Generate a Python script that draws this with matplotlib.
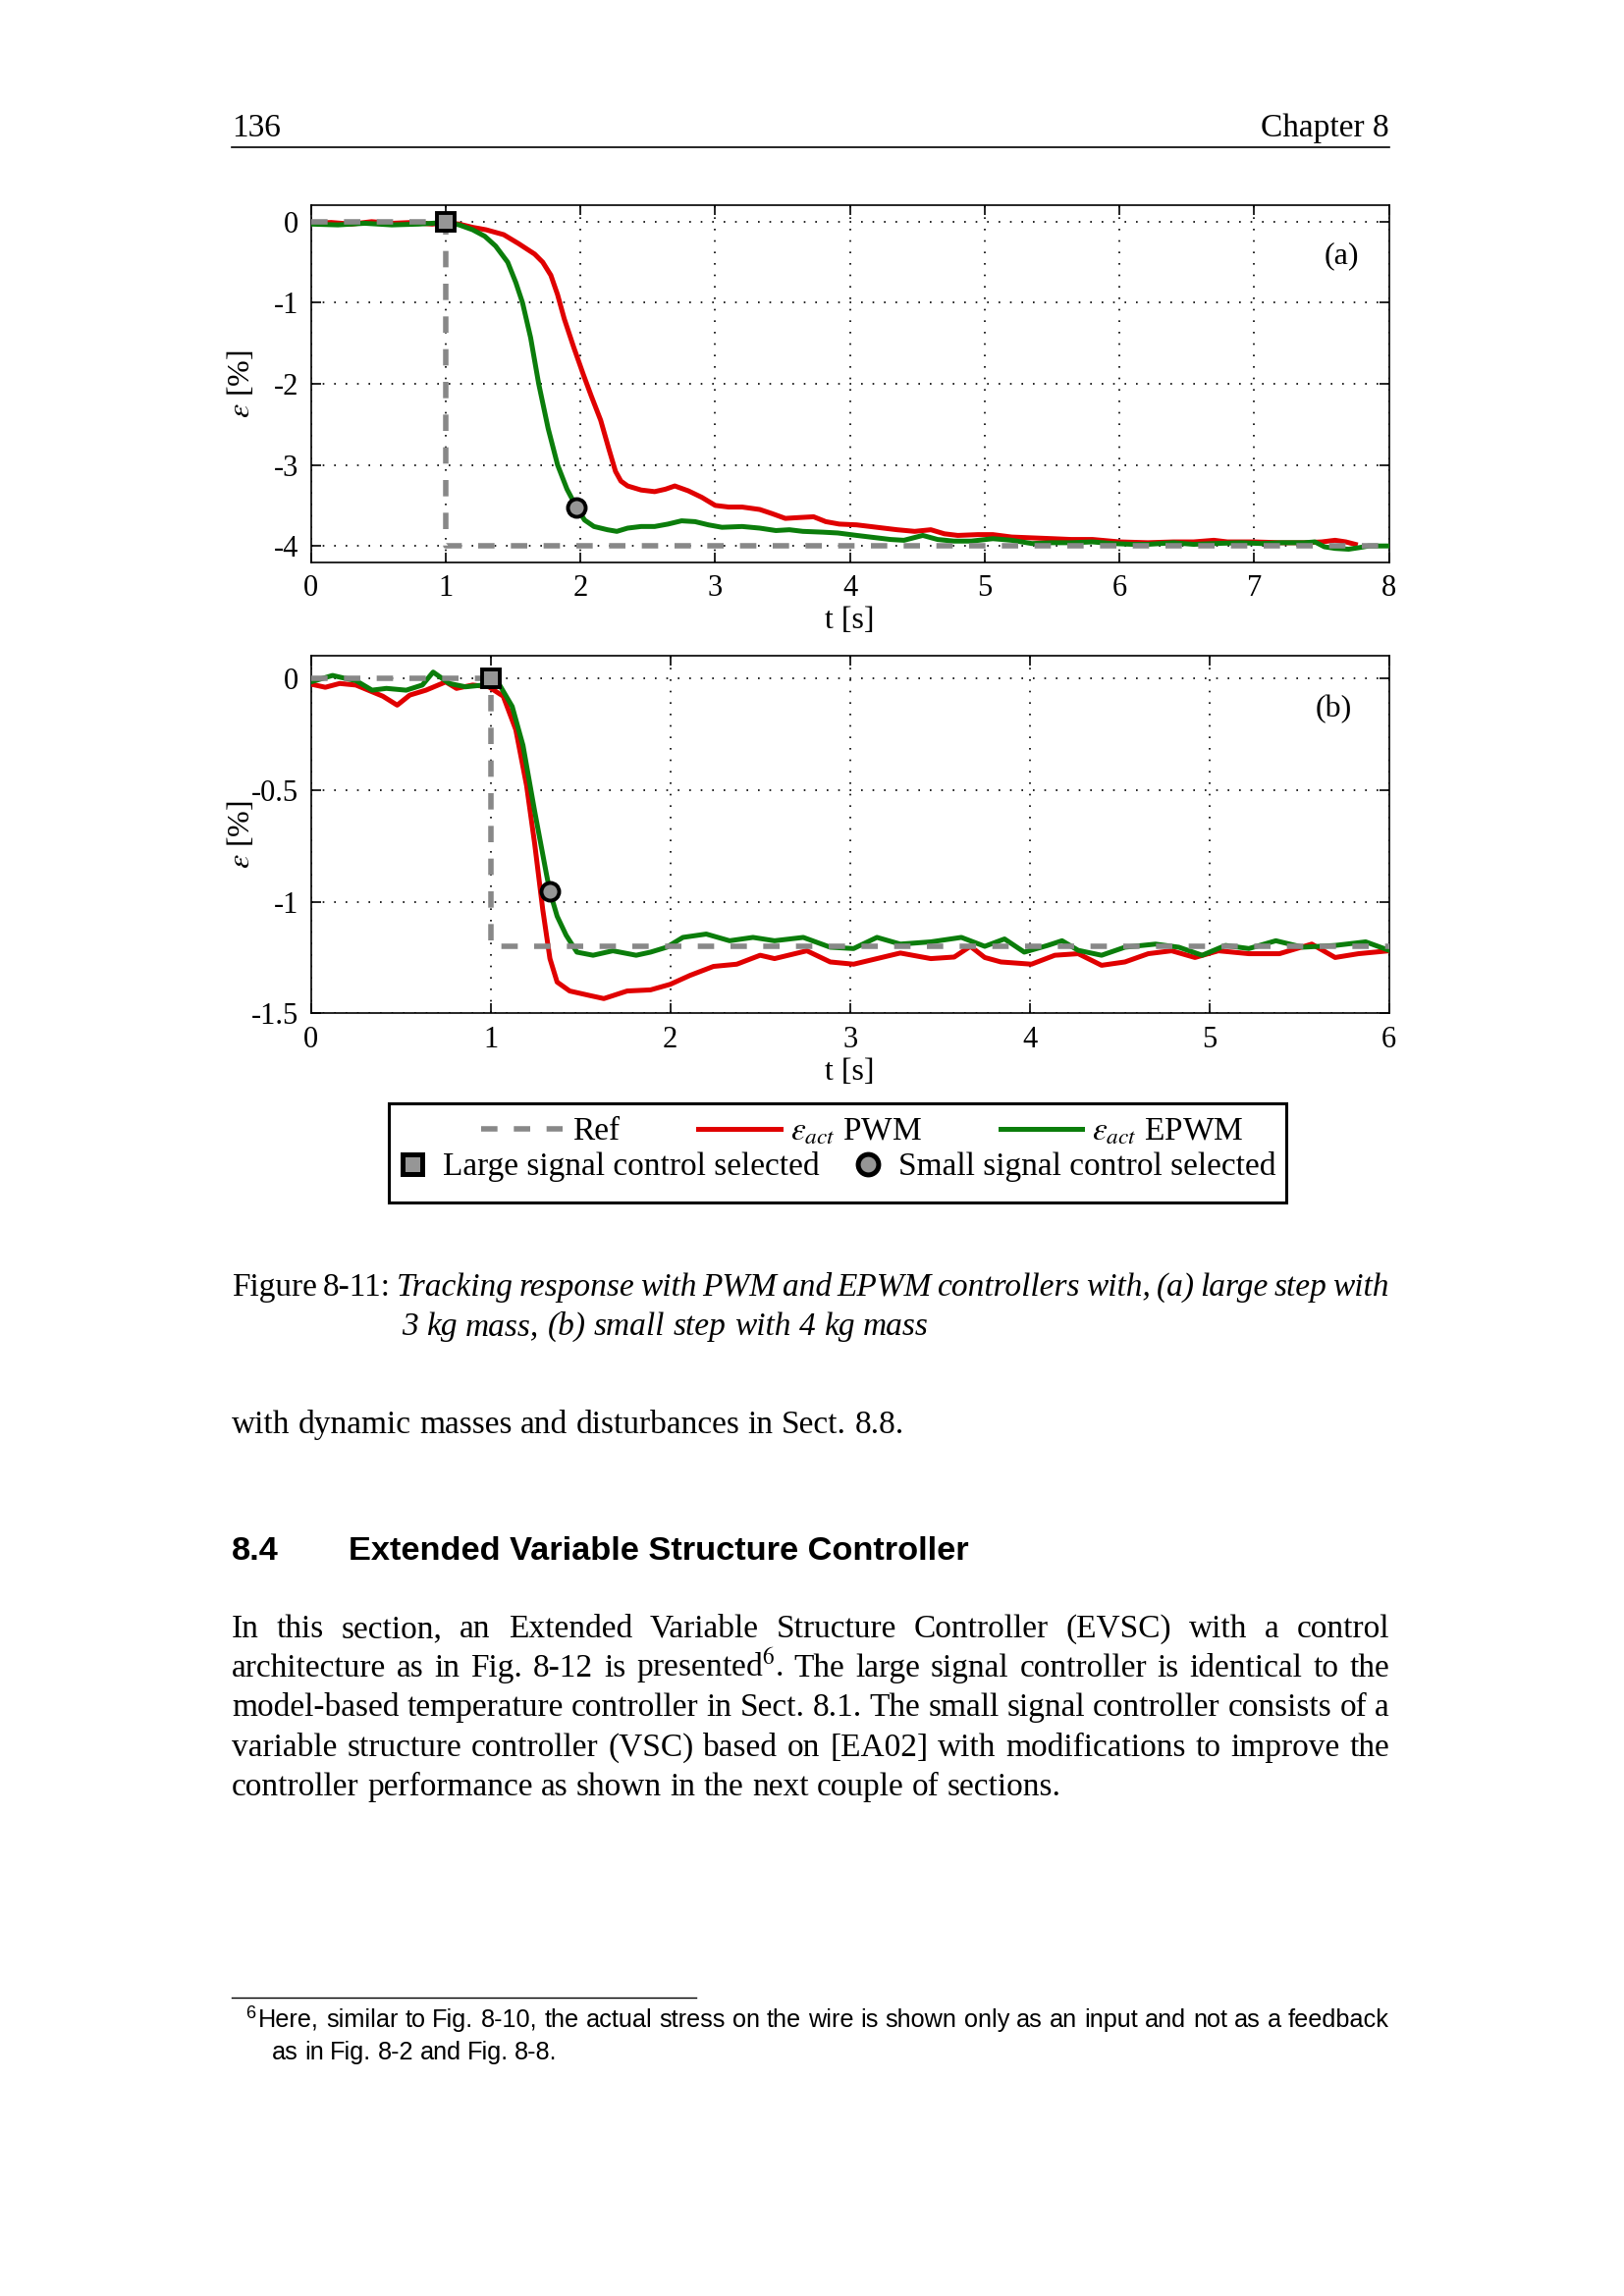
import numpy as np
import matplotlib
matplotlib.use('Agg')
import matplotlib.pyplot as plt
from matplotlib.lines import Line2D
from matplotlib.patches import Rectangle

plt.rcParams['font.family'] = ['Liberation Serif', 'DejaVu Serif']
plt.rcParams['mathtext.fontset'] = 'stix'
plt.rcParams['axes.unicode_minus'] = False

W, H, DPI = 1654, 2339, 200

# ---- panel (a): large step, 3 kg mass ----
ref_t_a = [0, 1, 1, 8]
ref_y_a = [0, 0, -4, -4]

pwm_t_a = [0.00, 0.15, 0.30, 0.45, 0.60, 0.75, 0.90, 1.00, 1.10, 1.20, 1.30, 1.43, 1.54,
           1.66, 1.72, 1.78, 1.83, 1.88, 1.95, 2.02, 2.08, 2.15, 2.21, 2.26, 2.30, 2.35,
           2.45, 2.55, 2.63, 2.70, 2.80, 2.90, 3.00, 3.10, 3.20, 3.33, 3.42, 3.52, 3.62,
           3.73, 3.82, 3.92, 4.05, 4.20, 4.35, 4.48, 4.60, 4.70, 4.80, 4.95, 5.06, 5.20,
           5.35, 5.50, 5.64, 5.80, 6.00, 6.21, 6.40, 6.55, 6.70, 6.80, 7.00, 7.20, 7.37,
           7.50, 7.60, 7.68, 7.75]
pwm_y_a = [-0.02, -0.01, -0.03, 0.00, -0.02, -0.01, -0.03, -0.01, -0.03, -0.07, -0.10, -0.16, -0.27,
           -0.40, -0.50, -0.66, -0.90, -1.20, -1.55, -1.88, -2.15, -2.45, -2.80, -3.08, -3.20, -3.26,
           -3.31, -3.33, -3.30, -3.26, -3.32, -3.40, -3.50, -3.52, -3.52, -3.55, -3.60, -3.66, -3.65,
           -3.64, -3.70, -3.73, -3.74, -3.77, -3.80, -3.82, -3.80, -3.85, -3.87, -3.86, -3.86, -3.89,
           -3.90, -3.91, -3.92, -3.92, -3.95, -3.96, -3.95, -3.95, -3.93, -3.95, -3.95, -3.96, -3.96,
           -3.95, -3.93, -3.95, -3.98]

epwm_t_a = [0.00, 0.20, 0.40, 0.60, 0.80, 0.90, 1.00, 1.10, 1.20, 1.29, 1.37, 1.46, 1.52,
            1.57, 1.63, 1.69, 1.76, 1.83, 1.90, 1.97, 2.03, 2.10, 2.20, 2.27, 2.35, 2.45,
            2.55, 2.65, 2.75, 2.85, 2.95, 3.05, 3.20, 3.33, 3.45, 3.55, 3.65, 3.80, 3.91,
            4.05, 4.20, 4.30, 4.40, 4.54, 4.65, 4.77, 4.90, 5.06, 5.20, 5.35, 5.50, 5.64,
            5.80, 5.95, 6.10, 6.21, 6.40, 6.55, 6.70, 6.90, 7.05, 7.20, 7.37, 7.45, 7.52,
            7.60, 7.70, 7.78, 7.85, 8.00]
epwm_y_a = [-0.03, -0.04, -0.02, -0.04, -0.03, -0.02, -0.01, -0.04, -0.10, -0.18, -0.30, -0.50, -0.75,
            -1.00, -1.43, -2.00, -2.55, -3.00, -3.30, -3.52, -3.68, -3.76, -3.80, -3.82, -3.78, -3.76,
            -3.76, -3.73, -3.69, -3.70, -3.74, -3.77, -3.76, -3.78, -3.81, -3.80, -3.82, -3.83, -3.84,
            -3.87, -3.90, -3.92, -3.93, -3.87, -3.92, -3.94, -3.94, -3.91, -3.93, -3.97, -3.96, -3.96,
            -3.95, -3.97, -3.98, -3.98, -3.96, -3.98, -3.97, -3.96, -3.97, -3.96, -3.96, -3.95, -4.01,
            -4.03, -4.04, -4.02, -4.00, -4.00]

large_t_a, large_y_a = [1.0], [0.0]
small_t_a, small_y_a = [1.97], [-3.52]

# ---- panel (b): small step, 4 kg mass ----
ref_t_b = [0, 1, 1, 6]
ref_y_b = [0, 0, -1.2, -1.2]

pwm_t_b = [0.00, 0.08, 0.16, 0.25, 0.34, 0.40, 0.48, 0.55, 0.64, 0.75, 0.81, 0.90, 0.99,
           1.07, 1.14, 1.20, 1.245, 1.29, 1.33, 1.37, 1.44, 1.55, 1.63, 1.76, 1.89, 2.00,
           2.11, 2.24, 2.37, 2.50, 2.58, 2.76, 2.89, 3.02, 3.15, 3.28, 3.45, 3.58, 3.67,
           3.75, 3.84, 4.01, 4.14, 4.27, 4.40, 4.53, 4.66, 4.79, 4.92, 5.05, 5.22, 5.39,
           5.57, 5.70, 5.83, 6.00]
pwm_y_b = [-0.026, -0.040, -0.023, -0.030, -0.060, -0.080, -0.120, -0.075, -0.053, -0.016, -0.045, -0.030, -0.038,
           -0.080, -0.230, -0.480, -0.740, -1.035, -1.255, -1.360, -1.400, -1.420, -1.434, -1.400, -1.395, -1.370,
           -1.330, -1.290, -1.280, -1.240, -1.255, -1.220, -1.270, -1.280, -1.255, -1.230, -1.255, -1.248, -1.200,
           -1.250, -1.270, -1.280, -1.240, -1.233, -1.285, -1.270, -1.233, -1.220, -1.250, -1.220, -1.233, -1.233,
           -1.190, -1.250, -1.233, -1.220]

epwm_t_b = [0.00, 0.12, 0.19, 0.25, 0.34, 0.42, 0.53, 0.62, 0.68, 0.77, 0.86, 0.96, 1.05,
            1.12, 1.18, 1.245, 1.31, 1.33, 1.37, 1.42, 1.48, 1.57, 1.68, 1.81, 1.89, 1.98,
            2.07, 2.20, 2.33, 2.46, 2.58, 2.74, 2.89, 3.02, 3.15, 3.28, 3.45, 3.62, 3.75,
            3.86, 3.97, 4.10, 4.18, 4.27, 4.40, 4.53, 4.70, 4.83, 4.96, 5.09, 5.22, 5.37,
            5.52, 5.70, 5.87, 6.00]
epwm_y_b = [-0.016, 0.013, 0.000, -0.010, -0.053, -0.045, -0.053, -0.030, 0.028, -0.023, -0.038, -0.030, -0.030,
            -0.126, -0.300, -0.595, -0.874, -0.955, -1.065, -1.150, -1.226, -1.240, -1.220, -1.240, -1.226, -1.204,
            -1.160, -1.145, -1.175, -1.160, -1.175, -1.160, -1.204, -1.210, -1.160, -1.190, -1.180, -1.160, -1.200,
            -1.167, -1.226, -1.196, -1.175, -1.218, -1.240, -1.204, -1.190, -1.204, -1.240, -1.196, -1.210, -1.175,
            -1.204, -1.196, -1.180, -1.218]

large_t_b, large_y_b = [1.0], [0.0]
small_t_b, small_y_b = [1.33], [-0.955]

xticks_a = [0, 1, 2, 3, 4, 5, 6, 7, 8]
yticks_a = [0, -1, -2, -3, -4]
ylabels_a = ['0', '-1', '-2', '-3', '-4']
xticks_b = [0, 1, 2, 3, 4, 5, 6]
yticks_b = [0, -0.5, -1, -1.5]
ylabels_b = ['0', '-0.5', '-1', '-1.5']

RED = '#e00000'
GREEN = '#0b7d0b'
GRAY = '#888888'
FILL = '#969696'

fig = plt.figure(figsize=(W / DPI, H / DPI), dpi=DPI)


def fx(x):
    return x / W


def fy(y):
    return 1 - y / H


def px_axes(l, t, r, b):
    return fig.add_axes([fx(l), fy(b), (r - l) / W, (b - t) / H])


def draw_panel(ax, data, xticks, yticks, ylabels, xlim, ylim, tag, tag_xy):
    ref_t, ref_y, pt, py, et, ey, lt, ly, st, sy = data
    ax.plot(pt, py, color=RED, lw=1.8, zorder=3)
    ax.plot(et, ey, color=GREEN, lw=1.8, zorder=4)
    ax.plot(ref_t, ref_y, color=GRAY, lw=2.0, ls=(0, (3, 3)), zorder=5)
    ax.plot(lt, ly, ls='none', marker='s', ms=6.5, mfc=FILL, mec='k', mew=1.4, zorder=6)
    ax.plot(st, sy, ls='none', marker='o', ms=6.5, mfc=FILL, mec='k', mew=1.4, zorder=6)
    ax.set_xlim(*xlim)
    ax.set_ylim(*ylim)
    ax.set_xticks(xticks)
    ax.set_xticklabels([str(v) for v in xticks])
    ax.set_yticks(yticks)
    ax.set_yticklabels(ylabels)
    ax.grid(True, color='k', lw=0.6, ls=(0, (1, 6)))
    ax.tick_params(direction='in', top=True, right=True, length=3.6, width=0.6,
                   labelsize=11, pad=4.5)
    for s in ax.spines.values():
        s.set_linewidth(0.6)
    ax.set_xlabel('t [s]', fontsize=11.5)
    ax.xaxis.set_label_coords(0.5, -0.125)
    ax.set_ylabel(r'$\varepsilon$ [%]', fontsize=11.5)
    ax.yaxis.set_label_coords(-0.051, 0.5)
    ax.text(tag_xy[0], tag_xy[1], tag, fontsize=11.5, ha='center', va='center')


ax_a = px_axes(316.7, 209.3, 1414.7, 572.7)
draw_panel(ax_a, (ref_t_a, ref_y_a, pwm_t_a, pwm_y_a, epwm_t_a, epwm_y_a,
                  large_t_a, large_y_a, small_t_a, small_y_a),
           xticks_a, yticks_a, ylabels_a, (0, 8), (-4.2, 0.2), '(a)', (7.65, -0.42))

ax_b = px_axes(316.7, 668.3, 1414.7, 1032.3)
draw_panel(ax_b, (ref_t_b, ref_y_b, pwm_t_b, pwm_y_b, epwm_t_b, epwm_y_b,
                  large_t_b, large_y_b, small_t_b, small_y_b),
           xticks_b, yticks_b, ylabels_b, (0, 6), (-1.5, 0.1), '(b)', (5.69, -0.137))

# ---- shared legend ----
fig.add_artist(Rectangle((fx(395.7), fy(1225)), (1310 - 395.7) / W, (1225 - 1124) / H,
                         transform=fig.transFigure, fill=False, lw=1.1, ec='k'))
h_ref = Line2D([], [], color=GRAY, lw=2.0, ls=(0, (3, 3)))
h_pwm = Line2D([], [], color=RED, lw=1.8)
h_epwm = Line2D([], [], color=GREEN, lw=1.8)
fig.legend([h_ref, h_pwm, h_epwm], ['Ref', r'$\varepsilon_{act}$ PWM', r'$\varepsilon_{act}$ EPWM'],
           loc='center left', bbox_to_anchor=(fx(490), fy(1153)), ncol=3, frameon=False,
           fontsize=12, handlelength=2.5, handletextpad=0.3, columnspacing=2.4,
           borderpad=0, borderaxespad=0)
h_large = Line2D([], [], ls='none', marker='s', ms=7.5, mfc=FILL, mec='k', mew=1.8)
h_small = Line2D([], [], ls='none', marker='o', ms=7.5, mfc=FILL, mec='k', mew=1.8)
fig.legend([h_large, h_small], ['Large signal control selected', 'Small signal control selected'],
           loc='center left', bbox_to_anchor=(fx(406), fy(1189)), ncol=2, frameon=False,
           fontsize=12, handlelength=0.85, handletextpad=0.5, columnspacing=1.05,
           borderpad=0, borderaxespad=0)

# ---- page text ----
renderer = fig.canvas.get_renderer()
SERIF = dict(family=['Liberation Serif', 'DejaVu Serif'], fontsize=12)
ITAL = dict(family=['Liberation Serif', 'DejaVu Serif'], fontsize=12, style='italic')
SANS = dict(family=['Liberation Sans', 'DejaVu Sans'], fontsize=9.1)
BOLD = dict(family=['Liberation Sans', 'DejaVu Sans'], fontsize=12.4, weight='bold')
LEFT, RIGHT = 236, 1415


def put_line(parts, x0, y, x1=None):
    texts, widths = [], []
    for word, fp in parts:
        t = fig.text(0, 0, word, ha='left', va='baseline', **fp)
        widths.append(t.get_window_extent(renderer=renderer).width)
        texts.append(t)
    if x1 is not None and len(parts) > 1:
        gap = (x1 - x0 - sum(widths)) / (len(parts) - 1)
    else:
        gap = 0.25 * parts[0][1]['fontsize'] * DPI / 72
    x = x0
    for t, wd in zip(texts, widths):
        t.set_position((fx(x), fy(y)))
        x += wd + gap


def words(s, fp):
    return [(w, fp) for w in s.split()]


# header
fig.text(fx(LEFT), fy(139), '136', ha='left', va='baseline', **SERIF)
fig.text(fx(RIGHT), fy(139), 'Chapter 8', ha='right', va='baseline', **SERIF)
fig.add_artist(Line2D([fx(LEFT), fx(RIGHT)], [fy(150), fy(150)], color='k', lw=0.6,
                      transform=fig.transFigure))

# caption
put_line(words('Figure 8-11:', SERIF) +
         words('Tracking response with PWM and EPWM controllers with, (a) large step with', ITAL),
         LEFT, 1320, RIGHT)
put_line(words('3 kg mass, (b) small step with 4 kg mass', ITAL), 409, 1360)

put_line(words('with dynamic masses and disturbances in Sect. 8.8.', SERIF), LEFT, 1460)

# section heading
fig.text(fx(LEFT), fy(1589), '8.4', ha='left', va='baseline', **BOLD)
fig.text(fx(355), fy(1589), 'Extended Variable Structure Controller', ha='left', va='baseline', **BOLD)

para = [
    'In this section, an Extended Variable Structure Controller (EVSC) with a control',
    'architecture as in Fig. 8-12 is presented$^{6}$. The large signal controller is identical to the',
    'model-based temperature controller in Sect. 8.1. The small signal controller consists of a',
    'variable structure controller (VSC) based on [EA02] with modifications to improve the',
    'controller performance as shown in the next couple of sections.',
]
para_y = [1668, 1708, 1748, 1789, 1829]
for i, (line, y) in enumerate(zip(para, para_y)):
    last = i == len(para) - 1
    put_line(words(line, SERIF), LEFT, y, None if last else RIGHT)

# footnote
fig.add_artist(Line2D([fx(LEFT), fx(709)], [fy(2035), fy(2035)], color='k', lw=0.5,
                      transform=fig.transFigure))
fig.text(fx(250), fy(2056), '6', ha='left', va='baseline',
         family=['Liberation Sans', 'DejaVu Sans'], fontsize=6.5)
put_line(words('Here, similar to Fig. 8-10, the actual stress on the wire is shown only as an '
               'input and not as a feedback', SANS), 263, 2065, RIGHT)
put_line(words('as in Fig. 8-2 and Fig. 8-8.', SANS), 277, 2098)

fig.savefig('out.png', dpi=DPI)
